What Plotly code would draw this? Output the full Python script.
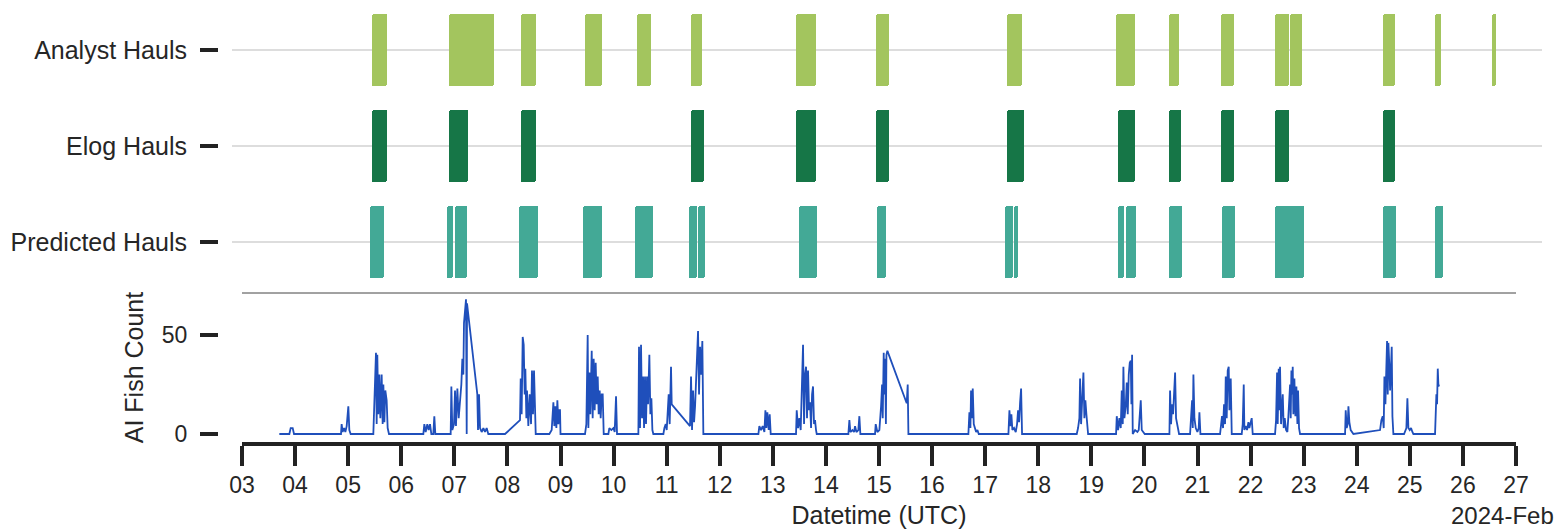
import pandas as pd
import plotly.graph_objects as go

# ---------------- data (day-of-month, February 2024, fractional days) ----------------
rows = ["Predicted Hauls", "Elog Hauls", "Analyst Hauls"]

analyst_start = [5.455, 6.90, 8.25, 9.46, 10.44, 11.45, 13.44, 14.94, 17.42, 19.47, 20.46, 21.44, 22.47, 22.74, 24.49, 25.48, 26.55]
analyst_end   = [5.737, 7.75, 8.53, 9.78, 10.70, 11.67, 13.81, 15.19, 17.70, 19.82, 20.65, 21.68, 22.72, 22.97, 24.72, 25.59, 26.63]

elog_start = [5.455, 6.90, 8.25, 11.45, 13.44, 14.94, 17.42, 19.51, 20.46, 21.44, 22.47, 24.49]
elog_end   = [5.737, 7.26, 8.54, 11.71, 13.81, 15.19, 17.73, 19.82, 20.69, 21.68, 22.72, 24.72]

pred_start = [5.42, 6.87, 7.01, 8.22, 9.43, 10.41, 11.42, 11.59, 13.49, 14.96, 17.38, 17.55, 19.51, 19.65, 20.46, 21.47, 22.47, 24.49, 25.48]
pred_end   = [5.68, 6.98, 7.23, 8.57, 9.79, 10.75, 11.57, 11.73, 13.84, 15.14, 17.53, 17.62, 19.62, 19.85, 20.71, 21.70, 23.01, 24.74, 25.62]

fish_day = [
    3.703, 3.892, 3.917, 3.955, 3.980,
    4.865, 4.877, 4.896, 4.922, 4.947, 4.972, 5.003, 5.022, 5.047,
    5.474, 5.493, 5.512, 5.524, 5.537, 5.549, 5.568, 5.587, 5.606, 5.631, 5.650, 5.663, 5.682, 5.700, 5.725, 5.744, 5.769,
    6.416, 6.435, 6.460, 6.491, 6.516, 6.542, 6.567, 6.604, 6.623, 6.642,
    6.931, 6.944, 6.962, 6.994, 7.013, 7.031, 7.057, 7.082, 7.107, 7.132, 7.151, 7.170, 7.182, 7.201, 7.220, 7.233, 7.239,
    7.433, 7.446, 7.465, 7.484, 7.515, 7.547, 7.578, 7.609, 7.640,
    7.955, 8.237, 8.250, 8.268, 8.288, 8.307, 8.325, 8.338, 8.357, 8.369, 8.394, 8.420, 8.445, 8.463, 8.482, 8.501, 8.520, 8.533,
    8.790, 8.834, 8.866, 8.884, 8.903, 8.922, 8.941, 8.960, 8.978, 8.991, 9.000,
    9.462, 9.487, 9.512, 9.525, 9.544, 9.562, 9.588, 9.606, 9.625, 9.644, 9.663, 9.682, 9.701, 9.719, 9.738, 9.757, 9.776, 9.795, 9.814,
    9.902, 9.920, 9.958, 9.996, 10.021, 10.046, 10.065,
    10.467, 10.479, 10.498, 10.517, 10.536, 10.555, 10.574, 10.592, 10.611, 10.630, 10.649, 10.674, 10.693, 10.712, 10.731, 10.749,
    10.938, 10.957, 10.982, 11.001, 11.019, 11.038, 11.057, 11.082, 11.095,
    11.440, 11.459, 11.478, 11.497, 11.516, 11.535, 11.553, 11.572, 11.591, 11.610, 11.629, 11.647, 11.672, 11.691,
    12.728, 12.746, 12.778, 12.809, 12.841, 12.860, 12.878, 12.897, 12.922, 12.941, 12.960,
    13.437, 13.450, 13.475, 13.500, 13.525, 13.550, 13.569, 13.588, 13.607, 13.626, 13.644, 13.663, 13.682, 13.701, 13.720, 13.739, 13.757, 13.776, 13.795, 13.814, 13.827,
    14.423, 14.442, 14.461, 14.499, 14.530, 14.549, 14.574, 14.611, 14.630, 14.649,
    14.925, 14.938, 14.969, 15.007, 15.039, 15.058, 15.070, 15.089, 15.100, 15.115, 15.130, 15.140, 15.158,
    15.522, 15.541, 15.554,
    16.684, 16.703, 16.722, 16.734, 16.753, 16.766, 16.785, 16.804, 16.829, 16.854, 16.879,
    17.438, 17.457, 17.476, 17.494, 17.513, 17.544, 17.576, 17.601, 17.620, 17.639, 17.658, 17.677, 17.695,
    18.725, 18.750, 18.775, 18.788, 18.807, 18.832, 18.851, 18.869, 18.888, 18.907, 18.926, 18.939,
    19.466, 19.479, 19.504, 19.529, 19.554, 19.573, 19.592, 19.604, 19.623, 19.648, 19.667, 19.686, 19.705, 19.724, 19.743, 19.755, 19.768, 19.780,
    19.824, 19.868, 19.893, 19.931, 19.950, 19.981, 20.006,
    20.471, 20.483, 20.502, 20.521, 20.540, 20.559, 20.578, 20.596, 20.615, 20.634, 20.653,
    20.860, 20.879, 20.898, 20.911, 20.923, 20.942, 20.967, 20.998, 21.023, 21.036, 21.055,
    21.425, 21.444, 21.462, 21.481, 21.500, 21.519, 21.532, 21.550, 21.569, 21.588, 21.601, 21.613, 21.626, 21.645,
    21.833, 21.852, 21.871, 21.883, 21.908, 21.934, 21.959, 21.977, 22.003, 22.021, 22.040,
    22.461, 22.480, 22.499, 22.511, 22.530, 22.543, 22.555, 22.574, 22.593, 22.606, 22.624, 22.643, 22.668, 22.693, 22.712, 22.731, 22.744,
    22.756, 22.769, 22.781, 22.794, 22.806, 22.825, 22.844, 22.863, 22.882, 22.894, 22.913, 22.932,
    23.780, 23.792, 23.811, 23.830, 23.843, 23.861, 23.886, 23.912, 23.937,
    24.439, 24.464, 24.489, 24.508, 24.521, 24.540, 24.552, 24.571, 24.584, 24.596, 24.615, 24.628, 24.640, 24.659, 24.672, 24.690,
    24.891, 24.916, 24.935, 24.954, 24.973, 24.998, 25.023, 25.048, 25.067,
    25.475, 25.488, 25.500, 25.513, 25.526, 25.539, 25.551,
]
fish_count = [
    0, 0, 3, 3, 0,
    0, 5, 1, 3, 1, 4, 14, 2, 0,
    0, 20, 40, 41, 5, 40, 10, 30, 8, 30, 5, 25, 6, 22, 17, 3, 0,
    0, 5, 1, 5, 2, 5, 0, 0, 9, 0,
    0, 24, 2, 5, 22, 4, 23, 8, 17, 25, 38, 30, 56, 63, 68, 0, 66,
    20, 2, 20, 3, 1, 3, 1, 3, 0,
    0, 7, 28, 10, 49, 45, 20, 33, 8, 22, 4, 20, 5, 32, 10, 32, 3, 0,
    0, 2, 16, 4, 14, 3, 17, 5, 12, 12, 0,
    0, 5, 50, 3, 31, 10, 42, 8, 38, 12, 36, 15, 29, 10, 22, 8, 20, 20, 0,
    0, 3, 2, 3, 1, 19, 0,
    0, 44, 3, 45, 8, 29, 3, 29, 5, 29, 15, 40, 10, 18, 2, 0,
    0, 3, 5, 2, 12, 20, 5, 34, 15,
    4, 29, 2, 22, 6, 14, 30, 39, 52, 20, 44, 30, 47, 0,
    0, 4, 2, 4, 1, 12, 3, 11, 2, 10, 0,
    0, 12, 3, 8, 2, 25, 45, 5, 30, 34, 8, 32, 12, 16, 3, 20, 24, 5, 7, 2, 0,
    0, 7, 1, 2, 1, 4, 1, 2, 9, 0,
    0, 5, 1, 2, 14, 25, 8, 41, 20, 38, 5, 40, 42,
    15.5, 25, 0,
    0, 11, 3, 22, 8, 23, 5, 3, 1, 2, 0,
    0, 12, 4, 10, 2, 3, 1, 5, 12, 6, 16, 23, 0,
    0, 3, 8, 28, 5, 20, 31, 8, 17, 10, 2, 0,
    0, 9, 2, 8, 3, 22, 5, 34, 8, 14, 26, 10, 30, 36, 37, 15, 40, 0,
    2, 1, 2, 17, 2, 1, 0,
    0, 22, 5, 15, 10, 20, 31, 8, 5, 2, 0,
    0, 7, 17, 3, 30, 8, 3, 1, 3, 11, 0,
    0, 4, 9, 3, 15, 5, 29, 8, 32, 34, 12, 22, 28, 0,
    0, 5, 25, 2, 4, 2, 6, 3, 7, 8, 0,
    0, 7, 31, 5, 33, 12, 34, 5, 15, 20, 3, 8, 2, 1, 9, 20, 25,
    8, 32, 20, 34, 10, 28, 9, 24, 5, 22, 3, 0,
    0, 12, 3, 5, 14, 6, 2, 1, 0,
    2, 7, 9, 3, 29, 15, 28, 47, 20, 46, 34, 22, 30, 44, 9, 0,
    0, 2, 3, 18, 3, 2, 3, 1, 0,
    0, 9, 20, 15, 33, 24, 25,
]

x_ticks_days = list(range(3, 28))

# ---------------- helpers ----------------
FEB1 = pd.Timestamp("2024-02-01")


def to_dt(days):
    return [FEB1 + pd.Timedelta(days=d - 1) for d in days]


colors = {"Analyst Hauls": "#a3c55e", "Elog Hauls": "#167647", "Predicted Hauls": "#43a996"}
haul_data = {
    "Analyst Hauls": (analyst_start, analyst_end),
    "Elog Hauls": (elog_start, elog_end),
    "Predicted Hauls": (pred_start, pred_end),
}

OFF = 8  # page body margin offset
W, H = 1567 - OFF, 529 - OFF
PLOT_BOTTOM = 442 - OFF  # pixel y of bottom of plotting area in figure coords
FONT = "Liberation Sans, Arial, sans-serif"
TXT = "#262626"

fig = go.Figure()

for name in ["Analyst Hauls", "Elog Hauls", "Predicted Hauls"]:
    s, e = haul_data[name]
    yv = rows.index(name)
    fig.add_trace(go.Bar(
        orientation="h",
        base=to_dt(s),
        x=[(b - a) * 86400000 for a, b in zip(s, e)],
        y=[yv] * len(s),
        width=0.76,
        marker=dict(color=colors[name], line=dict(width=0), cornerradius=2),
        xaxis="x", yaxis="y", showlegend=False, name=name,
    ))

fig.add_trace(go.Scatter(
    x=to_dt(fish_day), y=fish_count, mode="lines",
    line=dict(color="#1f4fbb", width=1.8),
    xaxis="x2", yaxis="y2", showlegend=False, name="AI Fish Count",
))

# target-screenshot pixel -> figure fraction
px2fx = lambda p: (p - OFF) / W
px2fy = lambda p: (PLOT_BOTTOM - (p - OFF)) / PLOT_BOTTOM

# scale: 53.08 px per day, day 3 at x=242
top_x0 = 3 + (232 - 242) / 53.08
top_x1 = 3 + (1542 - 242) / 53.08

fig.update_layout(
    width=W, height=H,
    margin=dict(l=0, r=0, t=0, b=H - PLOT_BOTTOM, autoexpand=False),
    paper_bgcolor="white", plot_bgcolor="white",
    font=dict(family=FONT, color=TXT, size=23),
    bargap=0, barmode="overlay",
    xaxis=dict(
        domain=[px2fx(232), px2fx(1542)], anchor="y", type="date",
        range=[FEB1 + pd.Timedelta(days=top_x0 - 1), FEB1 + pd.Timedelta(days=top_x1 - 1)],
        showticklabels=False, showgrid=False, zeroline=False, showline=False, ticks="",
    ),
    yaxis=dict(
        domain=[px2fy(290), px2fy(9)], anchor="free", position=px2fx(218),
        range=[-0.5, 2.46875 - 4 / 96],
        tickmode="array", tickvals=[0, 1, 2], ticktext=rows,
        tickfont=dict(size=25, color=TXT),
        showgrid=True, gridcolor="#dddddd", gridwidth=1.6, zeroline=False, showline=False,
        ticks="outside", ticklen=18, tickwidth=3.5, tickcolor="#222222",
        ticklabelstandoff=8,
    ),
    xaxis2=dict(
        domain=[px2fx(242), px2fx(1516)], anchor="y2", type="date",
        range=[FEB1 + pd.Timedelta(days=2), FEB1 + pd.Timedelta(days=26)],
        tickmode="array", tickvals=to_dt(x_ticks_days),
        ticktext=[f"{d:02d}" for d in x_ticks_days],
        tickfont=dict(size=23, color=TXT),
        showline=True, linewidth=3.5, linecolor="#222222",
        ticks="outside", ticklen=20, tickwidth=3.5, tickcolor="#222222",
        showgrid=False, zeroline=False,
        title=dict(text="Datetime (UTC)", font=dict(size=25, color=TXT), standoff=16),
    ),
    yaxis2=dict(
        domain=[0, px2fy(293)], anchor="free", position=px2fx(218),
        range=[-4.04, 71.2],
        tickmode="array", tickvals=[0, 50], ticktext=["0", "50"],
        tickfont=dict(size=23, color=TXT),
        showgrid=False, zeroline=False, showline=False,
        ticks="outside", ticklen=18, tickwidth=3.5, tickcolor="#222222",
        ticklabelstandoff=8,
        title=dict(text="AI Fish Count", font=dict(size=25, color=TXT), standoff=10),
    ),
    shapes=[dict(type="line", xref="x2 domain", yref="y2 domain", x0=0, x1=1, y0=1, y1=1,
                 line=dict(color="#444444", width=1))],
    annotations=[dict(text="2024-Feb", xref="paper", yref="paper", x=px2fx(1556), y=px2fy(515),
                      xanchor="right", yanchor="middle", showarrow=False,
                      font=dict(size=24, color=TXT))],
)

fig.write_html("out.html")
